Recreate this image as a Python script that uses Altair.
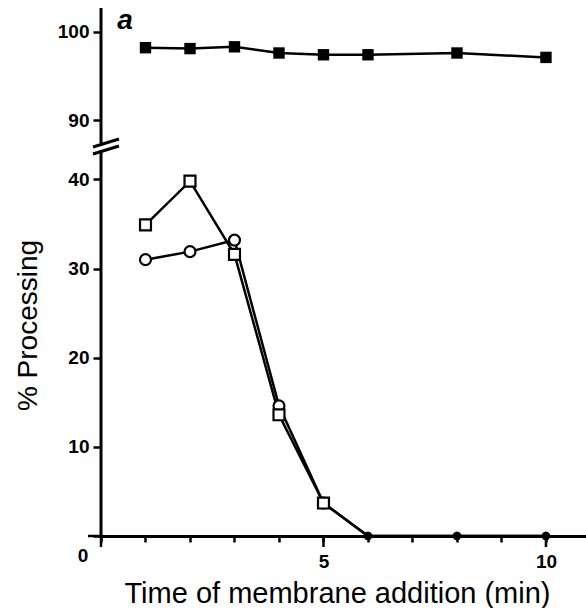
import altair as alt
import pandas as pd

# ---- data ----
time = [1, 2, 3, 4, 5, 6, 8, 10]
total = [98.2, 98.1, 98.3, 97.6, 97.4, 97.4, 97.6, 97.1]      # filled squares (upper panel)
circles = [31.0, 31.9, 33.2, 14.6, 3.7, 0, 0, 0]              # open circles
squares = [34.9, 39.8, 31.6, 13.6, 3.7, 0, 0, 0]              # open squares

x_ticks = list(range(0, 11))
long_x_ticks = [0, 5, 10]
y_ticks_low = [0, 10, 20, 30, 40]
y_ticks_high = [90, 100]

FONT = "Liberation Sans"
W = 485
H_TOP = 135
H_LOW = 386

top_df = pd.DataFrame({"t": time, "pct": total})
low_df = pd.DataFrame({
    "t": time + time,
    "pct": circles + squares,
    "series": ["circle"] * len(time) + ["square"] * len(time),
})

xscale = alt.Scale(domain=[0, 10.9], nice=False, zero=False)
yscale_top = alt.Scale(domain=[87.4, 102.7], nice=False, zero=False)
yscale_low = alt.Scale(domain=[0, 43.3], nice=False, zero=False)

one = pd.DataFrame({"k": [0]})

# ---------- upper panel ----------
top_y_axis = alt.Axis(
    values=y_ticks_high, title=None, tickSize=8, tickWidth=2.5, domain=False,
    tickColor="black", labelColor="black",
    labelFont=FONT, labelFontSize=19, labelFontWeight="bold", labelPadding=4,
    grid=False,
)
top_base = alt.Chart(top_df)
top_line = top_base.mark_line(color="black", strokeWidth=2.5).encode(
    x=alt.X("t:Q", scale=xscale, axis=None),
    y=alt.Y("pct:Q", scale=yscale_top, axis=top_y_axis),
)
top_pts = top_base.mark_point(shape="square", filled=True, color="black",
                              size=130, opacity=1).encode(
    x=alt.X("t:Q", scale=xscale, axis=None),
    y=alt.Y("pct:Q", scale=yscale_top, axis=top_y_axis),
)
top_axis_line = alt.Chart(one).mark_rule(color="black", strokeWidth=3).encode(
    x=alt.value(0), y=alt.value(0), y2=alt.value(H_TOP))
label_a = alt.Chart(pd.DataFrame({"txt": ["a"]})).mark_text(
    font=FONT, fontSize=28, fontWeight="bold", fontStyle="italic",
    baseline="middle", align="center", color="black",
).encode(x=alt.value(24), y=alt.value(13), text="txt:N")

top_chart = alt.layer(top_axis_line, top_line, top_pts, label_a).properties(
    width=W, height=H_TOP)

# ---------- lower panel ----------
low_x_axis = alt.Axis(
    values=x_ticks, labelExpr="(datum.value == 5 || datum.value == 10) ? datum.label : ''",
    title="Time of membrane addition (min)", titleFont=FONT, titleFontSize=29,
    titleFontWeight="normal", titleColor="black", titleX=236, titleY=57,
    titleBaseline="middle",
    tickSize=6, tickWidth=2.5, domainWidth=3, domainColor="black", tickColor="black",
    labelFont=FONT, labelFontSize=19, labelFontWeight="bold", labelColor="black",
    labelPadding=10, grid=False,
)
low_y_axis = alt.Axis(
    values=y_ticks_low, labelExpr="datum.value == 0 ? '' : datum.label",
    title="% Processing", titleFont=FONT, titleFontSize=28, titleFontWeight="normal",
    titleColor="black", titleX=-73, titleY=175, titleBaseline="middle", titleAngle=270,
    tickSize=8, tickWidth=2.5, domain=False, tickColor="black",
    labelFont=FONT, labelFontSize=19, labelFontWeight="bold", labelColor="black",
    labelPadding=4, grid=False,
)

X = alt.X("t:Q", scale=xscale, axis=low_x_axis)
Y = alt.Y("pct:Q", scale=yscale_low, axis=low_y_axis)
shape_enc = alt.Shape("series:N",
                      scale=alt.Scale(domain=["circle", "square"], range=["circle", "square"]),
                      legend=None)

low_base = alt.Chart(low_df)
low_line = low_base.mark_line(color="black", strokeWidth=2.5).encode(
    x=X, y=Y, detail="series:N")
low_pts = low_base.transform_filter("datum.pct > 0").mark_point(
    filled=True, fill="white", stroke="black", strokeWidth=2.2, size=120, opacity=1
).encode(x=X, y=Y, shape=shape_enc)
zero_pts = low_base.transform_filter("datum.pct == 0").mark_point(
    filled=True, color="black", shape="circle", size=70, opacity=1
).encode(x=X, y=Y)

low_axis_line = alt.Chart(one).mark_rule(color="black", strokeWidth=3).encode(
    x=alt.value(0), y=alt.value(0), y2=alt.value(H_LOW + 2))

long_ticks = alt.Chart(pd.DataFrame({"t": long_x_ticks})).mark_rule(
    color="black", strokeWidth=2.5).encode(
    x=alt.X("t:Q", scale=xscale, axis=low_x_axis),
    y=alt.value(H_LOW), y2=alt.value(H_LOW + 11))

zero_tick = alt.Chart(pd.DataFrame({"v": [0]})).mark_rule(
    color="black", strokeWidth=2.5).encode(
    y=alt.Y("v:Q", scale=yscale_low, axis=low_y_axis),
    x=alt.value(-13), x2=alt.value(0))

zero_label = alt.Chart(pd.DataFrame({"t": [0], "v": [0], "txt": ["0"]})).mark_text(
    font=FONT, fontSize=19, fontWeight="bold", color="black", dx=-18, dy=20,
    baseline="middle", align="center").encode(
    x=alt.X("t:Q", scale=xscale, axis=low_x_axis),
    y=alt.Y("v:Q", scale=yscale_low, axis=low_y_axis),
    text="txt:N")

brk = alt.Chart(one)
break1 = brk.mark_rule(color="black", strokeWidth=3).encode(
    x=alt.value(-8), x2=alt.value(18), y=alt.value(-3), y2=alt.value(-11))
break2 = brk.mark_rule(color="black", strokeWidth=3).encode(
    x=alt.value(-8), x2=alt.value(18), y=alt.value(4), y2=alt.value(-4))

low_chart = alt.layer(low_axis_line, low_line, low_pts, zero_pts, long_ticks, zero_tick,
                      zero_label, break1, break2).properties(width=W, height=H_LOW)

chart = alt.vconcat(top_chart, low_chart, spacing=7, bounds="flush").properties(
    padding={"left": 14, "top": 6, "right": 0, "bottom": 0},
    background="white",
).configure_view(stroke=None)

chart.save("out.html", embed_options={"renderer": "svg", "actions": False})
